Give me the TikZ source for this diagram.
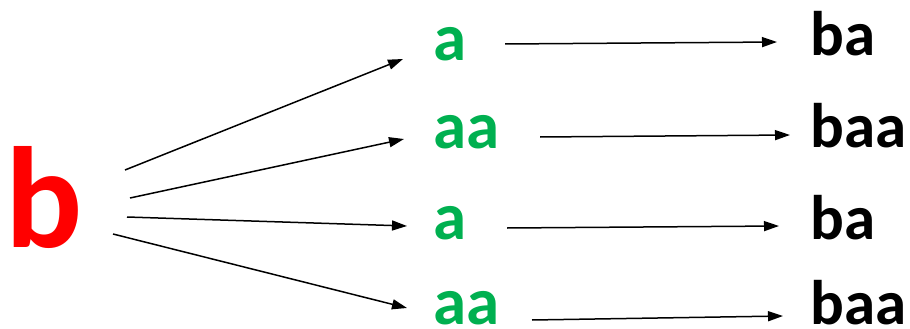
\documentclass[tikz,border=0pt]{standalone}
\usepackage{fontspec}
\setmainfont{Carlito}
\usetikzlibrary{arrows.meta}
\definecolor{offgreen}{HTML}{00B050}
\definecolor{offred}{HTML}{FF0000}
\tikzset{
  lbl/.style={anchor=base west, inner sep=0pt, font=\fontsize{63}{63}\selectfont\bfseries},
  grn/.style={lbl, text=offgreen, font=\fontsize{67}{67}\selectfont\bfseries},
  big/.style={anchor=base west, inner sep=0pt, text=offred, font=\fontsize{144}{144}\selectfont\bfseries},
  arr/.style={-{Triangle[length=15pt,width=10pt]}, line width=1.5pt, black},
}
\begin{document}
\begin{tikzpicture}[x=1pt,y=-1pt]
\useasboundingbox (0,0) rectangle (910,329);
\node[big] (b) at (5,247) {b};
\node[grn] (a1) at (433,60) {a};
\node[grn] (a2) at (433,148) {aa};
\node[grn] (a3) at (433,239) {a};
\node[grn] (a4) at (433,324) {aa};
\node[lbl] (r1) at (810,56) {ba};
\node[lbl] (r2) at (810,147) {baa};
\node[lbl] (r3) at (810,239) {ba};
\node[lbl] (r4) at (810,324) {baa};
% left arrow endpoints
\coordinate (s1) at (125,170); \coordinate (e1) at (403,59);
\coordinate (s2) at (130,198); \coordinate (e2) at (404,139);
\coordinate (s3) at (127,217); \coordinate (e3) at (407,226);
\coordinate (s4) at (113,234); \coordinate (e4) at (407,308);
\draw[arr] (s1) -- (e1);
\draw[arr] (s2) -- (e2);
\draw[arr] (s3) -- (e3);
\draw[arr] (s4) -- (e4);
% right arrow endpoints
\coordinate (t1) at (505,44); \coordinate (f1) at (777,42);
\coordinate (t2) at (540,137); \coordinate (f2) at (790,135);
\coordinate (t3) at (507,228); \coordinate (f3) at (779,226);
\coordinate (t4) at (532,320); \coordinate (f4) at (783,316);
\draw[arr] (t1) -- (f1);
\draw[arr] (t2) -- (f2);
\draw[arr] (t3) -- (f3);
\draw[arr] (t4) -- (f4);
\end{tikzpicture}
\end{document}
